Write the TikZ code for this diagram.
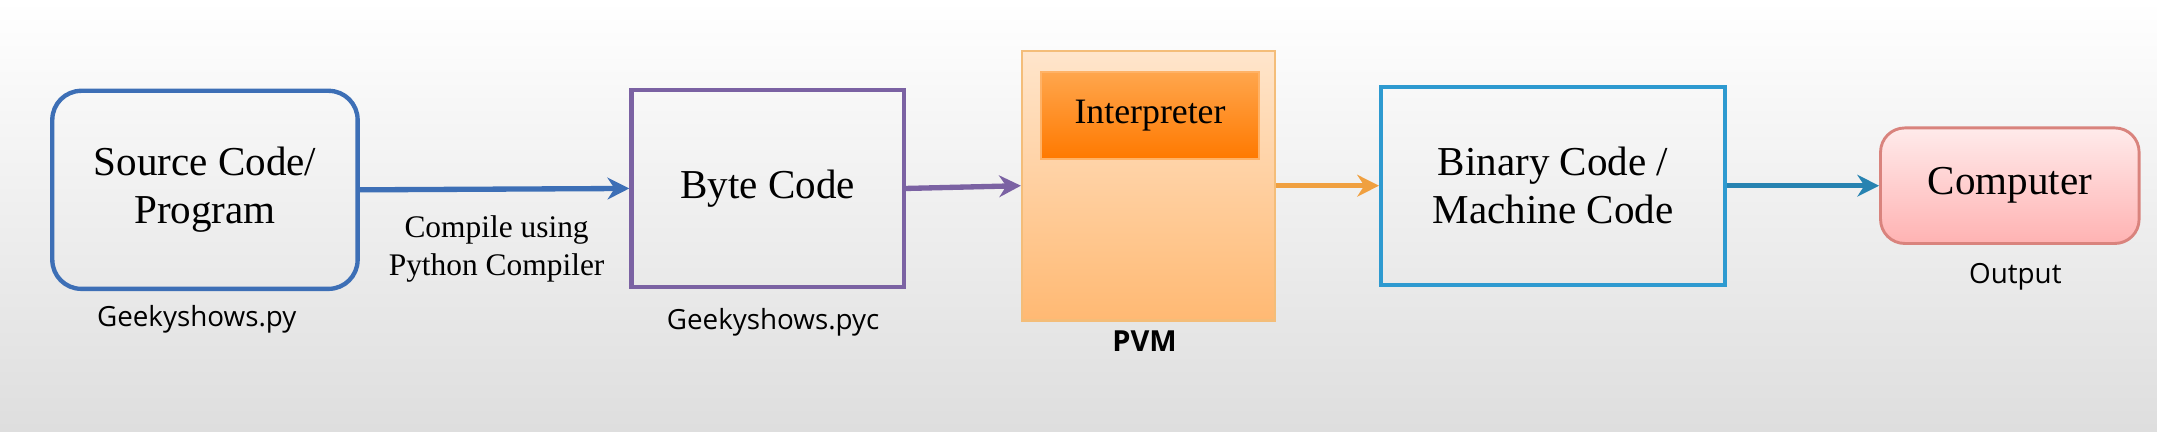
\documentclass[tikz,border=0pt]{standalone}
\usepackage{fontspec}
\setmainfont{Liberation Serif}
\newfontfamily\labelfont{Open Sans}
\usetikzlibrary{arrows.meta}
\definecolor{srcblue}{HTML}{3D6FB6}
\definecolor{bytepurple}{HTML}{7B62A3}
\definecolor{pvmorange}{HTML}{F0A040}
\definecolor{binblue}{HTML}{2E9AD0}
\definecolor{comppink}{HTML}{D9837D}
\tikzset{
  box/.style={draw, line width=1.8pt, minimum width=#1, align=center, font=\fontsize{17}{20}\selectfont},
  flow/.style={line width=2.2pt, -{Stealth[length=9pt,width=9pt]}},
  caption/.style={font=\labelfont\fontsize{11.5}{13}\selectfont}
}
\begin{document}
\begin{tikzpicture}[x=0.02cm,y=-0.02cm]
  \shade[top color=white, bottom color=black!13] (0,0) rectangle (1568,314);
  \useasboundingbox (0,0) rectangle (1568,314);

  % boxes
  \node[box, srcblue, text=black, rounded corners=12pt, minimum width=4.44cm, minimum height=2.88cm] (src) at (149,138) {Source Code/\\Program};
  \node[box, bytepurple, text=black, minimum width=3.96cm, minimum height=2.86cm] (byte) at (558,137) {Byte Code};
  \node[draw=pvmorange!70, line width=1pt, top color=orange!20, bottom color=orange!55, minimum width=3.68cm, minimum height=3.92cm] (pvm) at (835,135) {};
  \node[draw=orange!60, line width=0.8pt, top color=orange!70, bottom color=orange!95!red, minimum width=3.16cm, minimum height=1.26cm, font=\fontsize{14.8}{17}\selectfont] (interp) at (836,84) {Interpreter};
  \node[box, binblue, text=black, minimum width=5cm, minimum height=2.88cm] (bin) at (1129,135) {Binary Code /\\Machine Code};
  \node[box, comppink, line width=1.2pt, text=black, rounded corners=10pt, top color=red!8, bottom color=red!30, minimum width=3.76cm, minimum height=1.68cm] (comp) at (1461,135) {Computer};

  % captions
  \node[caption] (srccap) at (143,232) {Geekyshows.py};
  \node[caption] (bytecap) at (562,234) {Geekyshows.pyc};
  \node[caption, font=\labelfont\bfseries\fontsize{12}{14}\selectfont] (pvmcap) at (832,248) {PVM};
  \node[caption] (compcap) at (1465,201) {Output};
  \node[align=center, font=\fontsize{13}{16}\selectfont] (compile) at (361,181) {Compile using\\Python Compiler};

  % arrows
  \draw[flow, srcblue] (src.east) -- (byte.west);
  \draw[flow, bytepurple] (byte.east) -- (pvm.west);
  \draw[flow, pvmorange] (pvm.east) -- (bin.west);
  \draw[flow, binblue!85!black] (bin.east) -- (comp.west);
\end{tikzpicture}
\end{document}
